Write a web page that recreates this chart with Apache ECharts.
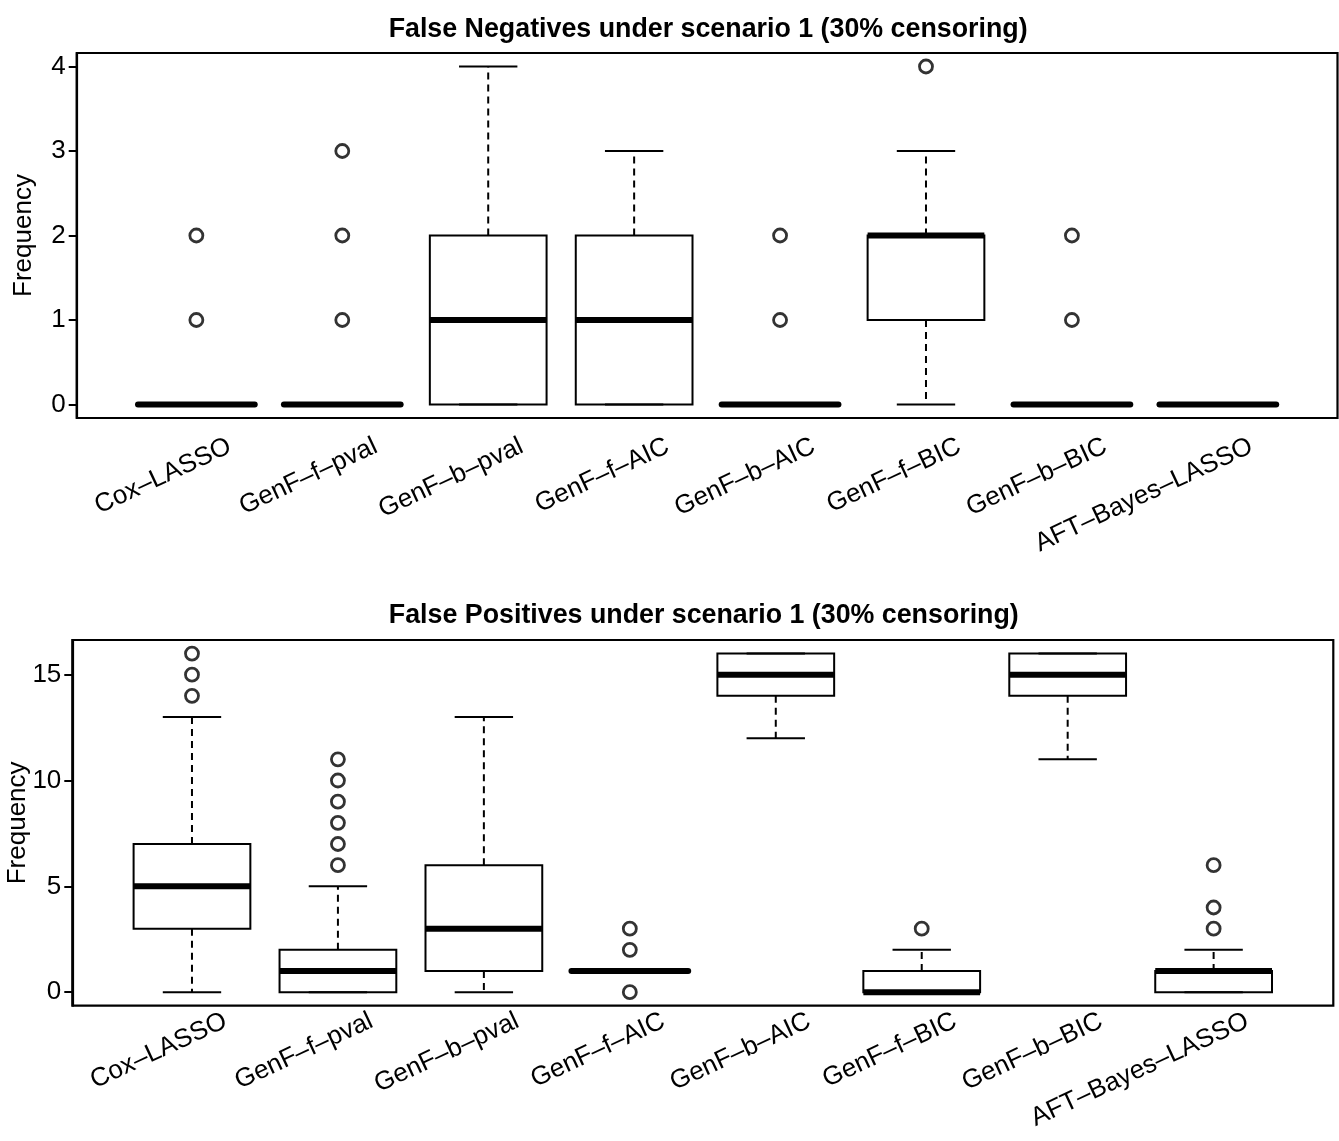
<!DOCTYPE html>
<html>
<head>
<meta charset="utf-8">
<script src="https://cdn.jsdelivr.net/npm/echarts@6/dist/echarts.min.js"></script>
<style>
  html, body { margin: 0; padding: 0; background: #fff; }
  #chart { width: 1339px; height: 1141px; }
</style>
</head>
<body>
<div id="chart"></div>
<script>
// ---------------- data ----------------
const categories = ['Cox\u2013LASSO', 'GenF\u2013f\u2013pval', 'GenF\u2013b\u2013pval', 'GenF\u2013f\u2013AIC',
                    'GenF\u2013b\u2013AIC', 'GenF\u2013f\u2013BIC', 'GenF\u2013b\u2013BIC', 'AFT\u2013Bayes\u2013LASSO'];

// False negatives (top panel)
const fnLower    = [0, 0, 0, 0, 0, 0, 0, 0];
const fnQ1       = [0, 0, 0, 0, 0, 1, 0, 0];
const fnMedian   = [0, 0, 1, 1, 0, 2, 0, 0];
const fnQ3       = [0, 0, 2, 2, 0, 2, 0, 0];
const fnUpper    = [0, 0, 4, 3, 0, 3, 0, 0];
const fnOutliers = [[1, 2], [1, 2, 3], [], [], [1, 2], [4], [1, 2], []];
const fnTicks    = [0, 1, 2, 3, 4];

// False positives (bottom panel)
const fpLower    = [0, 0, 0, 1, 12, 0, 11, 0];
const fpQ1       = [3, 0, 1, 1, 14, 0, 14, 0];
const fpMedian   = [5, 1, 3, 1, 15, 0, 15, 1];
const fpQ3       = [7, 2, 6, 1, 16, 1, 16, 1];
const fpUpper    = [13, 5, 13, 1, 16, 2, 16, 2];
const fpOutliers = [[14, 15, 16], [6, 7, 8, 9, 10, 11], [], [0, 2, 3], [], [3], [], [3, 4, 6]];
const fpTicks    = [0, 5, 10, 15];

const titles = ['False Negatives under scenario 1 (30% censoring)',
                'False Positives under scenario 1 (30% censoring)'];
const yName = 'Frequency';

// ---------------- styling constants ----------------
const FONT = "'Liberation Sans', Arial, Helvetica, sans-serif";
const BOX_WIDTH = 0.8;
const STAPLE_WIDTH = 0.4;
const LABEL_SHIFT = 0.23;
const X_MIN = 0.18, X_MAX = 8.82;

function boxData(lo, q1, md, q3, hi) {
  return categories.map((c, i) => [i + 1, lo[i], q1[i], md[i], q3[i], hi[i]]);
}
function outlierData(outs) {
  const d = [];
  outs.forEach((arr, i) => arr.forEach(v => d.push([i + 1, v])));
  return d;
}

function renderBox(params, api) {
  const x = api.value(0), lo = api.value(1), q1 = api.value(2),
        md = api.value(3), q3 = api.value(4), hi = api.value(5);
  const h = BOX_WIDTH / 2, s = STAPLE_WIDTH / 2;
  const cTop = api.coord([x, q3]), cBot = api.coord([x, q1]);
  const cHi = api.coord([x, hi]), cLo = api.coord([x, lo]);
  const lt = api.coord([x - h, q3]), rb = api.coord([x + h, q1]);
  const mL = api.coord([x - h, md]), mR = api.coord([x + h, md]);
  const sHiL = api.coord([x - s, hi]), sHiR = api.coord([x + s, hi]);
  const sLoL = api.coord([x - s, lo]), sLoR = api.coord([x + s, lo]);
  const thin = { stroke: '#000', lineWidth: 2, fill: null };
  const dash = { stroke: '#000', lineWidth: 2, lineDash: [7, 5], fill: null };
  const children = [];
  if (hi > q3) children.push({ type: 'line', shape: { x1: cTop[0], y1: cTop[1], x2: cHi[0], y2: cHi[1] }, style: dash });
  if (lo < q1) children.push({ type: 'line', shape: { x1: cBot[0], y1: cBot[1], x2: cLo[0], y2: cLo[1] }, style: dash });
  children.push({ type: 'line', shape: { x1: sHiL[0], y1: sHiL[1], x2: sHiR[0], y2: sHiR[1] }, style: thin });
  children.push({ type: 'line', shape: { x1: sLoL[0], y1: sLoL[1], x2: sLoR[0], y2: sLoR[1] }, style: thin });
  children.push({ type: 'rect', shape: { x: lt[0], y: lt[1], width: rb[0] - lt[0], height: Math.max(rb[1] - lt[1], 0.01) },
                  style: { stroke: '#000', lineWidth: 2, fill: 'rgba(0,0,0,0)' } });
  children.push({ type: 'line', shape: { x1: mL[0], y1: mL[1], x2: mR[0], y2: mR[1] },
                  style: { stroke: '#000', lineWidth: 6, lineCap: (q1 === q3 ? 'round' : 'butt'), fill: null } });
  return { type: 'group', children: children };
}

const grids = [
  { left: 76.7, top: 53, width: 1260.8, height: 365 },
  { left: 72.3, top: 640, width: 1261, height: 365.7 }
];
const yRanges = [[-0.16, 4.16], [-0.64, 16.64]];
const yTicks = [fnTicks, fpTicks];
const labelMargins = [27, 14];
const nameGaps = [40, 41];

const option = {
  backgroundColor: '#fff',
  animation: false,
  textStyle: { fontFamily: FONT, color: '#000' },
  title: titles.map((t, i) => ({
    text: t,
    left: grids[i].left + grids[i].width / 2 - 4,
    textAlign: 'center',
    top: i === 0 ? 11 : 597,
    textStyle: { fontFamily: FONT, fontSize: 26.8, fontWeight: 'bold', color: '#000' }
  })),
  grid: grids.map(g => Object.assign({ show: true, borderColor: '#000', borderWidth: 2.2, backgroundColor: 'rgba(0,0,0,0)',
                                       containLabel: false, outerBoundsMode: 'none' }, g)),
  xAxis: [0, 1].map(i => ({
    type: 'value', gridIndex: i, min: X_MIN, max: X_MAX,
    axisLine: { show: false, onZero: false },
    axisTick: { show: false },
    splitLine: { show: false },
    axisLabel: {
      customValues: categories.map((c, k) => k + 1 + LABEL_SHIFT),
      formatter: v => categories[Math.round(v - LABEL_SHIFT) - 1] || '',
      rotate: 25, margin: labelMargins[i],
      fontSize: 26, fontFamily: FONT, color: '#000'
    }
  })),
  yAxis: [0, 1].map(i => ({
    type: 'value', gridIndex: i, min: yRanges[i][0], max: yRanges[i][1],
    name: yName, nameLocation: 'middle', nameRotate: 90, nameGap: nameGaps[i], nameMoveOverlap: false,
    nameTextStyle: { fontSize: 26, fontFamily: FONT, color: '#000' },
    axisLine: { show: true, onZero: false, lineStyle: { color: '#000', width: 2.2 } },
    axisTick: { show: true, inside: false, length: 8, customValues: yTicks[i], lineStyle: { color: '#000', width: 2 } },
    splitLine: { show: false },
    axisLabel: { customValues: yTicks[i], margin: 11, fontSize: 26, fontFamily: FONT, color: '#000' }
  })),
  series: [
    { type: 'custom', xAxisIndex: 0, yAxisIndex: 0, renderItem: renderBox,
      data: boxData(fnLower, fnQ1, fnMedian, fnQ3, fnUpper), encode: { x: 0, y: [1, 2, 3, 4, 5] }, z: 2 },
    { type: 'scatter', xAxisIndex: 0, yAxisIndex: 0, data: outlierData(fnOutliers),
      symbol: 'circle', symbolSize: 13, z: 3,
      itemStyle: { color: 'rgba(0,0,0,0)', borderColor: '#000', borderWidth: 2.8 } },
    { type: 'custom', xAxisIndex: 1, yAxisIndex: 1, renderItem: renderBox,
      data: boxData(fpLower, fpQ1, fpMedian, fpQ3, fpUpper), encode: { x: 0, y: [1, 2, 3, 4, 5] }, z: 2 },
    { type: 'scatter', xAxisIndex: 1, yAxisIndex: 1, data: outlierData(fpOutliers),
      symbol: 'circle', symbolSize: 13, z: 3,
      itemStyle: { color: 'rgba(0,0,0,0)', borderColor: '#000', borderWidth: 2.8 } }
  ]
};

const chart = echarts.init(document.getElementById('chart'), null, { renderer: 'canvas' });
chart.setOption(option);
</script>
</body>
</html>
